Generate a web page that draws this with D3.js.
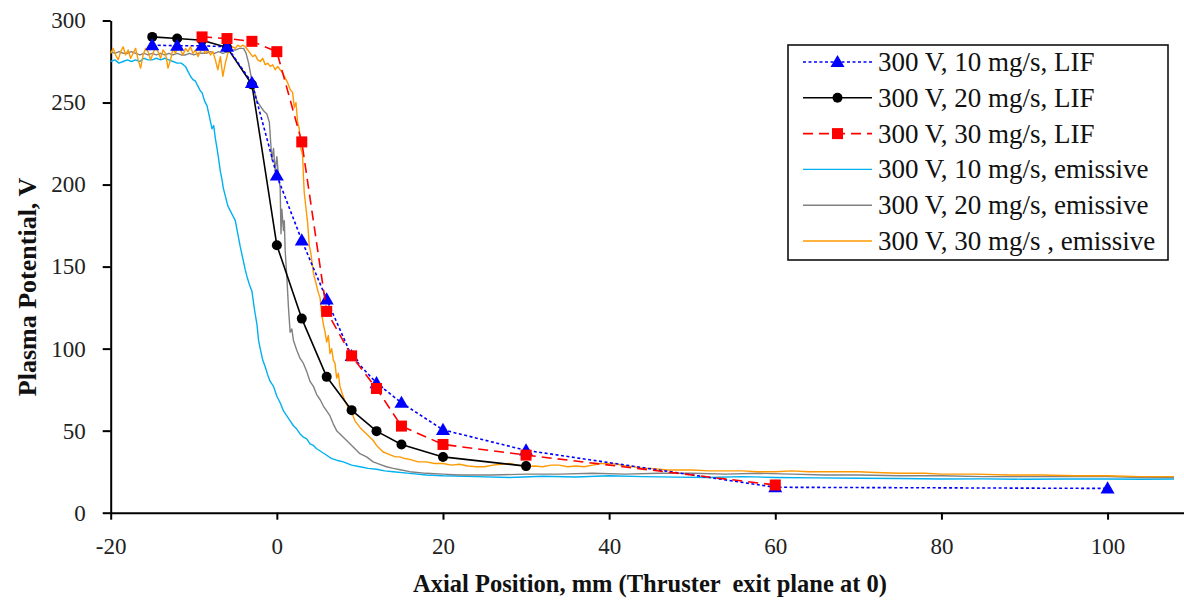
<!DOCTYPE html>
<html>
<head>
<meta charset="utf-8">
<script src="https://cdn.jsdelivr.net/npm/d3@7"></script>
<style>
  html, body { margin: 0; padding: 0; background: #fff; }
  svg { display: block; }
  svg text { font-family: "Liberation Serif", "DejaVu Serif", "Times New Roman", serif; }
</style>
</head>
<body>
<svg id="chart" width="1184" height="602"></svg>
<script>
// ---- Data: axial position (mm) vs plasma potential (V) ----
const xTicks = [-20, 0, 20, 40, 60, 80, 100];
const yTicks = [0, 50, 100, 150, 200, 250, 300];

const lif10 = [[-15,285],[-12,284.6],[-9,284.6],[-6,284],[-3,262],[0,205.5],[3,166],[6,130],[9,95.5],[12,79],[15,67],[20,50.5],[30,38],[60,15.5],[100,14.8]];
const lif20 = [[-15,290],[-12,289],[-9,288],[-6,283.6],[-3,261],[0,163],[3,118.3],[6,82.8],[9,62.5],[12,49.7],[15,41.6],[20,34],[30,28.4]];
const lif30 = [[-9,290],[-6,289],[-3,287.3],[0,281],[3,226],[6,122.7],[9,95.6],[12,75.7],[15,52.8],[20,41.6],[30,35.1],[60,16.9]];

const emis10 = [[-20,275],[-19.5,276],[-19,274],[-18.5,275],[-18,276],[-17.5,275],[-17,276],[-16.5,275],[-16,277],[-15.5,276],[-15,276],[-14.5,277],[-14,276],[-13.5,277],[-13,276],[-12.5,275],[-12,274],[-11.5,274],[-11,272],[-10.7,269],[-10.4,266],[-10.1,264],[-9.8,263],[-9.5,260],[-9.2,257],[-9,256],[-8.7,251],[-8.4,248],[-8.1,241],[-7.8,234],[-7.6,236],[-7.4,228],[-7.2,222],[-7.05,217],[-6.8,208],[-6.6,203],[-6.45,198],[-6.2,193],[-5.9,187],[-5.6,184],[-5.3,181],[-5.0,178],[-4.7,170],[-4.4,162],[-4.1,155],[-3.8,148],[-3.6,144],[-3.3,139],[-3.0,135],[-2.7,124],[-2.4,115],[-2.2,105],[-2.0,100],[-1.7,93],[-1.4,89],[-1.1,84],[-0.8,80],[-0.4,77],[0,71],[0.4,67],[0.8,62],[1.2,59],[1.6,56],[2.0,53],[2.4,51],[2.8,48],[3.2,46],[3.6,45],[4.0,42],[4.4,41],[4.8,39],[5.4,37],[6.0,35],[6.6,33],[7.2,32],[8,31],[9,29],[10,28],[11,27],[12,26.5],[13,25.5],[14,25],[16,24],[18,23],[20,22.5],[24,22],[28,21.5],[32,22.2],[36,21.8],[40,22.5],[44,22],[48,21.7],[52,21.5],[56,22],[60,21.5],[65,21.2],[70,21],[75,20.8],[80,20.5],[85,20.6],[90,20.4],[95,20.5],[100,20.5],[104,20.4],[108,20.5]];

const emis20 = [[-20,281],[-19.5,280],[-19,281],[-18.5,280],[-18,280],[-17.5,281],[-17,280],[-16.5,279],[-16,280],[-15.5,279],[-15,280],[-14.5,279],[-14,280],[-13.5,279],[-13,280],[-12.5,279],[-12,280],[-11.5,279],[-11,279],[-10.5,280],[-10,279],[-9.5,280],[-9,280],[-8.5,280],[-8,281],[-7.5,280],[-7,281],[-6.5,280],[-6,281],[-5.5,282],[-5,282],[-4.5,283],[-4,283],[-3.7,280],[-3.4,274],[-3.1,266],[-2.8,259],[-2.4,251],[-2.0,248],[-1.6,245],[-1.2,243],[-0.9,238],[-0.6,215],[-0.4,222],[-0.2,208],[0,217],[0.2,205],[0.4,198],[0.5,170],[0.6,185],[0.8,172],[0.9,178],[1.0,160],[1.2,144],[1.4,125],[1.6,110],[1.8,112],[2.0,105],[2.4,99],[2.8,94],[3.2,91],[3.6,86],[4.0,80],[4.4,77],[4.8,72],[5.2,69],[5.6,65],[6.0,62],[6.4,59],[6.8,54],[7.2,50],[7.6,48],[8.0,46],[8.4,44],[8.8,42],[9.4,39],[10.0,36],[10.8,34],[11.6,31],[12.4,29.5],[13.2,28],[14,27],[15,26],[16,25],[18,24],[20,23.5],[22,23],[26,23],[30,23.5],[34,23.5],[38,24],[42,23.5],[46,24],[50,24],[54,23.5],[58,24],[62,23.5],[66,23],[70,23],[75,22.5],[80,22.5],[85,22],[90,22],[95,22],[100,22],[104,21.5],[108,21.5]];

const emis30 = [[-20,280],[-19.7,283],[-19.4,279],[-19.1,276],[-18.8,281],[-18.5,284],[-18.2,279],[-17.9,282],[-17.6,277],[-17.3,280],[-17,283],[-16.7,276],[-16.4,271],[-16.1,279],[-15.8,283],[-15.5,281],[-15.2,276],[-14.9,280],[-14.6,284],[-14.3,281],[-14,277],[-13.7,282],[-13.4,280],[-13.1,271],[-12.8,276],[-12.5,283],[-12.2,280],[-11.9,285],[-11.6,282],[-11.3,279],[-11,283],[-10.7,281],[-10.4,284],[-10.1,280],[-9.8,282],[-9.5,278],[-9.2,281],[-8.9,283],[-8.6,280],[-8.3,282],[-8,279],[-7.7,281],[-7.4,276],[-7.1,270],[-6.8,278],[-6.5,266],[-6.2,274],[-5.9,280],[-5.6,282],[-5.3,284],[-5,283],[-4.7,285],[-4.4,284],[-4.1,285],[-3.8,284],[-3.5,282],[-3.2,280],[-2.9,278],[-2.6,279],[-2.3,276],[-2,275],[-1.7,277],[-1.4,273],[-1.1,274],[-0.8,272],[-0.5,273],[-0.2,270],[0.1,272],[0.4,270],[0.7,268],[1.0,265],[1.3,262],[1.6,258],[1.9,256],[2.1,247],[2.3,250],[2.5,238],[2.7,234],[2.9,222],[3.1,218],[3.2,205],[3.3,195],[3.5,186],[3.7,177],[3.9,163],[4.1,158],[4.4,146],[4.7,140],[5.0,134],[5.2,131],[5.4,121],[5.6,115],[5.8,110],[6.0,104],[6.2,108],[6.4,97],[6.6,100],[6.8,93],[7.0,91],[7.2,82],[7.4,85],[7.6,77],[7.9,72],[8.2,68],[8.5,65],[8.8,62],[9.1,60],[9.4,56],[9.7,54],[10,52],[10.4,50],[10.8,48],[11.2,46],[11.6,44],[12.0,41],[12.4,39],[12.8,37],[13.3,36],[13.8,35],[14.3,34],[14.8,34],[15.4,33],[16,32.5],[17,31],[18,31],[19,30],[20,30],[21,29],[22,29.5],[23,28.5],[24,28],[25,28],[26,29],[27,29.5],[28,30],[29,29],[30,28],[31,28.5],[32,28],[33,29],[34,29],[35,28],[36,28.5],[37,28],[38,29],[39,30],[40,30],[41,29.5],[42,28.5],[43,28],[44,27],[45,27],[46,26.5],[47,26],[48,26],[50,26],[52,25.5],[54,25.5],[56,25.5],[58,25],[60,25],[62,25.5],[64,25],[66,25],[68,25],[70,25],[72,24.5],[75,24],[78,24],[80,23.5],[84,23.5],[88,23],[92,23],[96,22.5],[100,22.5],[104,22],[108,22]];

const legendLabels = [
  "300 V, 10 mg/s, LIF",
  "300 V, 20 mg/s, LIF",
  "300 V, 30 mg/s, LIF",
  "300 V, 10 mg/s, emissive",
  "300 V, 20 mg/s, emissive",
  "300 V, 30 mg/s , emissive"
];

// ---- Series styling ----
const series = [
  { data: lif10,  color: "#0000ff", width: 1.6, dash: "3,2.5", marker: "triangle" },
  { data: lif20,  color: "#000000", width: 1.6, dash: null,    marker: "circle" },
  { data: lif30,  color: "#ff0000", width: 1.6, dash: "10,6",  marker: "square" },
  { data: emis10, color: "#00b0f0", width: 1.4, dash: null,    marker: null },
  { data: emis20, color: "#808080", width: 1.4, dash: null,    marker: null },
  { data: emis30, color: "#ff9900", width: 1.4, dash: null,    marker: null }
];
const drawOrder = [3, 4, 5, 1, 0, 2];

const serif = '"Liberation Serif", "DejaVu Serif", "Times New Roman", serif';
const svg = d3.select("#chart").attr("font-family", serif);
const plotLeft = 110.7, plotTop = 20.5, plotBottom = 512.7, plotRight = 1184;

const x = d3.scaleLinear().domain([-20, 109.2]).range([plotLeft, plotRight]);
const y = d3.scaleLinear().domain([0, 300]).range([plotBottom, plotTop]);

// ---- Axes ----
const tickFmt = d => String(d);
const xAxis = svg.append("g")
  .attr("transform", `translate(0,${plotBottom})`)
  .call(d3.axisBottom(x).tickValues(xTicks).tickFormat(tickFmt).tickSize(7).tickPadding(18).tickSizeOuter(0));
const yAxis = svg.append("g")
  .attr("transform", `translate(${plotLeft},0)`)
  .call(d3.axisLeft(y).tickValues(yTicks).tickFormat(tickFmt).tickSize(8).tickPadding(17).tickSizeOuter(0));

[xAxis, yAxis].forEach(g => {
  g.attr("font-family", serif);
  g.select(".domain").attr("stroke", "#000").attr("stroke-width", 2);
  g.selectAll(".tick line").attr("stroke", "#000").attr("stroke-width", 2);
  g.selectAll(".tick text")
    .attr("fill", "#222")
    .attr("font-family", serif)
    .attr("font-size", 23);
});

// ---- Axis titles ----
svg.append("text")
  .attr("x", 650).attr("y", 592)
  .attr("text-anchor", "middle")
  .attr("font-family", serif)
  .attr("font-size", 24.5).attr("font-weight", "bold")
  .attr("fill", "#111")
  .attr("xml:space", "preserve")
  .text("Axial Position, mm (Thruster  exit plane at 0)");

svg.append("text")
  .attr("transform", "translate(36,287) rotate(-90)")
  .attr("text-anchor", "middle")
  .attr("font-family", serif)
  .attr("font-size", 26).attr("font-weight", "bold")
  .attr("fill", "#111")
  .text("Plasma Potential, V");

// ---- Lines ----
const line = d3.line().x(d => x(d[0])).y(d => y(d[1]));
const plot = svg.append("g");

function drawMarker(g, type, cx, cy, color) {
  if (type === "circle") {
    g.append("circle").attr("cx", cx).attr("cy", cy).attr("r", 5).attr("fill", color);
  } else if (type === "square") {
    g.append("rect").attr("x", cx - 5.5).attr("y", cy - 5.5).attr("width", 11).attr("height", 11).attr("fill", color);
  } else if (type === "triangle") {
    g.append("path")
      .attr("d", d3.symbol(d3.symbolTriangle, 85)())
      .attr("transform", `translate(${cx},${cy + 1})`)
      .attr("fill", color);
  }
}

drawOrder.forEach(i => {
  const s = series[i];
  plot.append("path")
    .datum(s.data)
    .attr("d", line)
    .attr("fill", "none")
    .attr("stroke", s.color)
    .attr("stroke-width", s.width)
    .attr("stroke-linejoin", "round")
    .attr("stroke-dasharray", s.dash);
  if (s.marker) {
    const mg = plot.append("g");
    s.data.forEach(d => drawMarker(mg, s.marker, x(d[0]), y(d[1]), s.color));
  }
});

// ---- Legend ----
const lg = svg.append("g");
lg.append("rect")
  .attr("x", 788).attr("y", 45).attr("width", 380).attr("height", 215)
  .attr("fill", "#fff").attr("stroke", "#111").attr("stroke-width", 1.6);

series.forEach((s, i) => {
  const cy = 62 + i * 35.8;
  lg.append("line")
    .attr("x1", 803).attr("x2", 872).attr("y1", cy).attr("y2", cy)
    .attr("stroke", s.color).attr("stroke-width", s.width)
    .attr("stroke-dasharray", s.dash);
  if (s.marker) drawMarker(lg, s.marker, 837.5, cy, s.color);
  lg.append("text")
    .attr("x", 878).attr("y", cy + 9)
    .attr("font-family", serif)
    .attr("font-size", 27)
    .attr("fill", "#111")
    .attr("xml:space", "preserve")
    .text(legendLabels[i]);
});
</script>
</body>
</html>
